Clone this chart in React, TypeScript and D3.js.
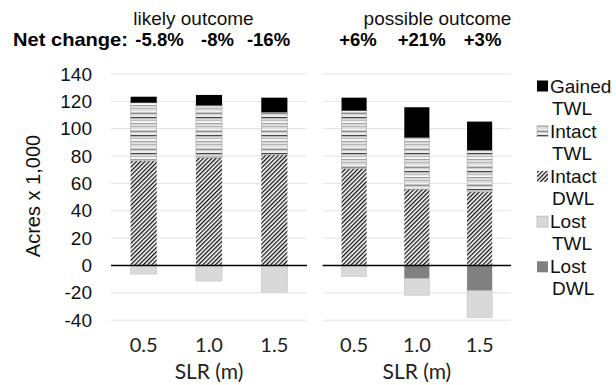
import React from "react";
import * as d3 from "d3";

// SLR scenarios (m)
const slr = ["0.5", "1.0", "1.5"];

// likely outcome (acres x 1,000)
const likelyIntactDWL = [76.5, 79, 80.8];
const likelyIntactTWL = [42.5, 38, 31.2];
const likelyGainedTWL = [4.4, 7.7, 10.7];
const likelyLostTWL = [6.3, 11.4, 19.5];
const likelyLostDWL = [0, 0, 0];

// possible outcome
const possibleIntactDWL = [70.9, 55.8, 53.8];
const possibleIntactTWL = [42.3, 37.7, 30.4];
const possibleGainedTWL = [9.5, 22.2, 21];
const possibleLostTWL = [8, 12, 19.5];
const possibleLostDWL = [0, 9.7, 18.5];

const likelyNet = ["-5.8%", "-8%", "-16%"];
const possibleNet = ["+6%", "+21%", "+3%"];

const yTicks = [140, 120, 100, 80, 60, 40, 20, 0, -20, -40];

const legendItems = [
  { key: "gained", l1: "Gained", l2: "TWL" },
  { key: "intactTWL", l1: "Intact", l2: "TWL" },
  { key: "intactDWL", l1: "Intact", l2: "DWL" },
  { key: "lostTWL", l1: "Lost", l2: "TWL" },
  { key: "lostDWL", l1: "Lost", l2: "DWL" },
];

const fills: Record<string, string> = {
  gained: "#000000",
  intactTWL: "url(#twl)",
  intactDWL: "url(#dwl)",
  lostTWL: "#d9d9d9",
  lostDWL: "#808080",
};

const arial = "'Liberation Sans', Arial, sans-serif";
const tickFont = "Lato, 'Open Sans', sans-serif";

const y = d3.scaleLinear().domain([-40, 140]).range([320.2, 74]);

function Panel({ x0, x1, dwl, twl, gained, lostTWL, lostDWL, net, netX }: any) {
  const x = d3.scaleBand<string>().domain(slr).range([x0, x1]).paddingInner(0.6).paddingOuter(0.3);
  const rows = slr.map((s, i) => ({
    s,
    intactDWL: dwl[i],
    intactTWL: twl[i],
    gained: gained[i],
    lostDWL: -lostDWL[i],
    lostTWL: -lostTWL[i],
  }));
  const stack = d3
    .stack<any>()
    .keys(["intactDWL", "intactTWL", "gained", "lostDWL", "lostTWL"])
    .offset(d3.stackOffsetDiverging);
  const series = stack(rows);
  return (
    <g>
      {yTicks.map((t) => (
        <line key={t} x1={x0} x2={x1} y1={y(t)} y2={y(t)} stroke="#e3e3e3" strokeWidth={1} />
      ))}
      {series.map((ser) =>
        ser.map((d, i) => {
          const h = Math.abs(y(d[0]) - y(d[1]));
          if (h < 0.01) return null;
          return (
            <rect
              key={ser.key + i}
              x={x(slr[i])}
              width={x.bandwidth()}
              y={Math.min(y(d[0]), y(d[1]))}
              height={h}
              fill={fills[ser.key]}
              stroke={ser.key === "lostTWL" ? "#c4c4c4" : ser.key === "intactTWL" ? "#a8a8a8" : "none"}
              strokeWidth={0.6}
            />
          );
        })
      )}
      <line x1={x0} x2={x1} y1={y(0)} y2={y(0)} stroke="#000" strokeWidth={1.5} />
      {slr.map((s) => (
        <text key={s} x={x(s)! + x.bandwidth() / 2} y={352} textAnchor="middle" fontFamily={tickFont} fontSize={20} fill="#222">
          {s}
        </text>
      ))}
      <text x={(x0 + x1) / 2} y={379} textAnchor="middle" fontFamily={tickFont} fontSize={21} fill="#222">
        SLR (m)
      </text>
      {net.map((n: string, i: number) => (
        <text key={n} x={netX[i]} y={46} textAnchor="middle" fontFamily={arial} fontWeight="bold" fontSize={18.5} fill="#000">
          {n}
        </text>
      ))}
    </g>
  );
}

export default function App() {
  const twlRows = ["#b4b4b4", "#dcdcdc", "#f4f4f4", "#909090", "#cfcfcf", "#ececec", "#444444", "#d8d8d8", "#bfbfbf", "#fafafa", "#a0a0a0", "#e2e2e2"];
  return (
    <svg width={616} height={385} style={{ position: "absolute", left: 0, top: 0 }}>
      <defs>
        <pattern id="twl" patternUnits="userSpaceOnUse" width={8} height={twlRows.length * 1.5}>
          {twlRows.map((c, i) => (
            <rect key={i} x={0} y={i * 1.5} width={8} height={1.5} fill={c} />
          ))}
        </pattern>
        <pattern id="dwl" patternUnits="userSpaceOnUse" width={3} height={3} patternTransform="rotate(45)">
          <rect width={3} height={3} fill="#fff" />
          <rect x={0} y={0} width={1.3} height={3} fill="#111" />
        </pattern>
      </defs>
      <rect width={616} height={385} fill="#fff" />
      <text x={193.5} y={25} textAnchor="middle" fontFamily={arial} fontSize={19} fill="#111">
        likely outcome
      </text>
      <text x={437.5} y={25} textAnchor="middle" fontFamily={arial} fontSize={19} fill="#111">
        possible outcome
      </text>
      <text x={13} y={46} fontFamily={arial} fontWeight="bold" fontSize={18.5} fill="#000" textLength={115} lengthAdjust="spacingAndGlyphs">
        Net change:
      </text>
      {yTicks.map((t) => (
        <text key={t} x={92} y={y(t) + 6.5} textAnchor="end" fontFamily={arial} fontSize={19} fill="#111">
          {t}
        </text>
      ))}
      <text
        transform={`translate(40,196) rotate(-90)`}
        textAnchor="middle"
        fontFamily={arial}
        fontSize={20}
        fill="#111"
      >
        Acres x 1,000
      </text>
      <Panel
        x0={111}
        x1={307}
        dwl={likelyIntactDWL}
        twl={likelyIntactTWL}
        gained={likelyGainedTWL}
        lostTWL={likelyLostTWL}
        lostDWL={likelyLostDWL}
        net={likelyNet}
        netX={[159.5, 217.5, 268.5]}
      />
      <Panel
        x0={322.7}
        x1={511}
        dwl={possibleIntactDWL}
        twl={possibleIntactTWL}
        gained={possibleGainedTWL}
        lostTWL={possibleLostTWL}
        lostDWL={possibleLostDWL}
        net={possibleNet}
        netX={[358, 421.7, 482.6]}
      />
      {legendItems.map((it, i) => {
        const cy = 86 + i * 45.2;
        return (
          <g key={it.key}>
            <rect x={537} y={cy - 5.5} width={11} height={11} fill={fills[it.key]} stroke={it.key === "lostTWL" || it.key === "intactTWL" ? "#aaa" : "none"} strokeWidth={0.6} />
            <text x={550} y={cy + 6.5} fontFamily={arial} fontSize={19} fill="#111">
              {it.l1}
            </text>
            <text x={552} y={cy + 28.5} fontFamily={arial} fontSize={19} fill="#111">
              {it.l2}
            </text>
          </g>
        );
      })}
    </svg>
  );
}
